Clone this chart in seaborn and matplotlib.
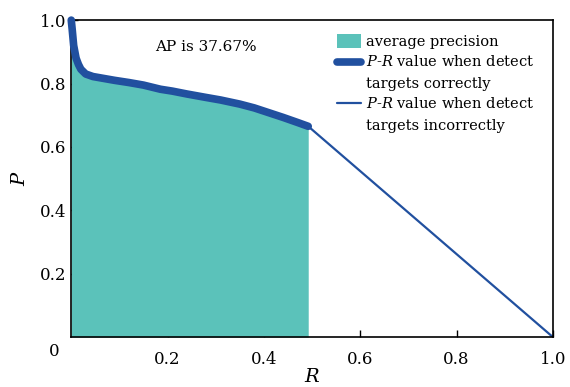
import numpy as np
import pandas as pd
import matplotlib
matplotlib.use("Agg")
import matplotlib.pyplot as plt
import seaborn as sns
from matplotlib.patches import Patch
from matplotlib.lines import Line2D
from matplotlib.legend_handler import HandlerLine2D

# Data
recall_correct = [0.0, 0.002, 0.005, 0.01, 0.015, 0.02, 0.03, 0.045, 0.06, 0.09, 0.12, 0.15,
                  0.185, 0.21, 0.24, 0.28, 0.31, 0.35, 0.38, 0.41, 0.44, 0.47, 0.492]
precision_correct = [1.0, 0.97, 0.92, 0.88, 0.86, 0.845, 0.83, 0.822, 0.818, 0.81, 0.803, 0.795,
                     0.782, 0.776, 0.767, 0.756, 0.748, 0.735, 0.723, 0.708, 0.693, 0.677, 0.665]
recall_incorrect = [0.492, 1.0]
precision_incorrect = [0.665, 0.0]
xticks = [0.2, 0.4, 0.6, 0.8, 1.0]
yticks = [0.2, 0.4, 0.6, 0.8, 1.0]
ap_text = "AP is 37.67%"
legend_labels = ["average precision",
                 "$P$-$R$ value when detect\ntargets correctly",
                 "$P$-$R$ value when detect\ntargets incorrectly"]

sns.set_style("ticks")
plt.rcParams["font.family"] = ["DejaVu Serif"]
plt.rcParams["mathtext.fontset"] = "dejavuserif"
plt.rcParams["text.color"] = "black"
plt.rcParams["axes.labelcolor"] = "black"
plt.rcParams["xtick.color"] = "black"
plt.rcParams["ytick.color"] = "black"

teal = "#5BC2BA"
blue = "#21509F"


class TopLineHandler(HandlerLine2D):
    """Place the legend line next to the first text line of a two-line label."""
    def __init__(self, shift, **kw):
        super().__init__(**kw)
        self.shift = shift

    def create_artists(self, legend, orig_handle, xdescent, ydescent, width, height,
                       fontsize, trans):
        arts = super().create_artists(legend, orig_handle, xdescent, ydescent, width,
                                      height, fontsize, trans)
        for a in arts:
            a.set_ydata(np.asarray(a.get_ydata(), dtype=float) + self.shift)
        return arts


fig = plt.figure(figsize=(5.7, 3.87), dpi=100)
ax = fig.add_axes([0.125, 0.129, 0.845, 0.819])

df_c = pd.DataFrame({"R": recall_correct, "P": precision_correct})
df_i = pd.DataFrame({"R": recall_incorrect, "P": precision_incorrect})

ax.fill_between(df_c["R"], 0, df_c["P"], color=teal, linewidth=0, zorder=1)
sns.lineplot(data=df_i, x="R", y="P", sort=False, color=blue, linewidth=1.6, ax=ax, zorder=2)
sns.lineplot(data=df_c, x="R", y="P", sort=False, color=blue, linewidth=5.5, ax=ax, zorder=3)
for ln in ax.lines[-1:]:
    ln.set_solid_capstyle("round")
    ln.set_solid_joinstyle("round")
    ln.set_clip_on(False)

ax.set_xlim(0, 1.0)
ax.set_ylim(0, 1.0)
ax.set_xticks(xticks)
ax.set_yticks(yticks)
ax.set_xticklabels([f"{v:.1f}" for v in xticks])
ax.set_yticklabels([f"{v:.1f}" for v in yticks])
ax.tick_params(direction="in", length=5, width=1, labelsize=12)
ax.tick_params(axis="x", pad=10)
ax.text(-0.025, -0.02, "0", transform=ax.transAxes, ha="right", va="top", fontsize=12)

for s in ax.spines.values():
    s.set_linewidth(1.2)
    s.set_color("black")
    s.set_visible(True)

ax.set_xlabel("$R$", fontsize=14, labelpad=0)
ax.set_ylabel("$P$", fontsize=14, labelpad=8)

ax.text(0.28, 0.915, ap_text, ha="center", va="center", fontsize=11)

h_patch = Patch(facecolor=teal, edgecolor="none")
h_thick = Line2D([], [], color=blue, linewidth=5.5, solid_capstyle="round")
h_thin = Line2D([], [], color=blue, linewidth=1.6)
handles = [h_patch, h_thick, h_thin]
leg = ax.legend(handles, legend_labels, loc="upper left", bbox_to_anchor=(0.545, 0.965),
                frameon=False, fontsize=10.5, handlelength=1.7, handleheight=1.1,
                handletextpad=0.3, borderaxespad=0.0, borderpad=0.2, labelspacing=0.35,
                handler_map={h_thick: TopLineHandler(7.5), h_thin: TopLineHandler(7.5)})
for t in leg.get_texts():
    t.set_linespacing(1.7)

fig.savefig("out.png", dpi=100)
